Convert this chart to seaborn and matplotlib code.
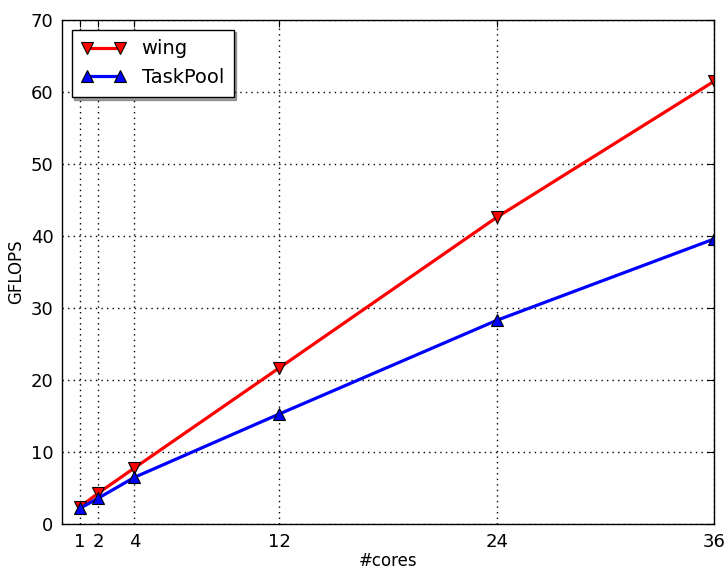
import numpy as np
import pandas as pd
import matplotlib
matplotlib.use("Agg")
import matplotlib.pyplot as plt
import seaborn as sns

sns.set_style("white", {"text.color": "black", "axes.labelcolor": "black",
                        "xtick.color": "black", "ytick.color": "black"})
plt.rcParams['font.family'] = ['DejaVu Sans']

cores = [1, 2, 4, 12, 24, 36]
wing = [2.4, 4.3, 7.8, 21.7, 42.6, 61.5]
taskpool = [2.2, 3.6, 6.5, 15.3, 28.3, 39.6]

fig = plt.figure(figsize=(7.28, 5.71), dpi=100)
ax = fig.add_axes([0.085, 0.082, 0.896, 0.883])

sns.lineplot(x=cores, y=wing, ax=ax, color='red', lw=2.3, marker='v', markersize=8,
             markeredgecolor='black', markeredgewidth=0.8, label='wing')
sns.lineplot(x=cores, y=taskpool, ax=ax, color='blue', lw=2.3, marker='^', markersize=8,
             markeredgecolor='black', markeredgewidth=0.8, label='TaskPool')

ax.set_xlim(0, 36)
ax.set_ylim(0, 70)
ax.set_xticks(cores)
ax.set_yticks(range(0, 71, 10))
ax.set_xlabel('#cores', fontsize=12, labelpad=1)
ax.set_ylabel('GFLOPS', fontsize=12)
ax.tick_params(direction='in', top=True, right=True, length=5, labelsize=13, pad=6)
ax.grid(True, color='black', linestyle=(0, (1, 3)), linewidth=1)
for s in ax.spines.values():
    s.set_color('black')
    s.set_linewidth(1)

leg = ax.legend(loc='upper left', fontsize=14, shadow=True, fancybox=False,
                numpoints=2, handlelength=2.3, borderpad=0.5, framealpha=1)
leg.get_frame().set_edgecolor('black')

fig.savefig('out.png', dpi=100)
